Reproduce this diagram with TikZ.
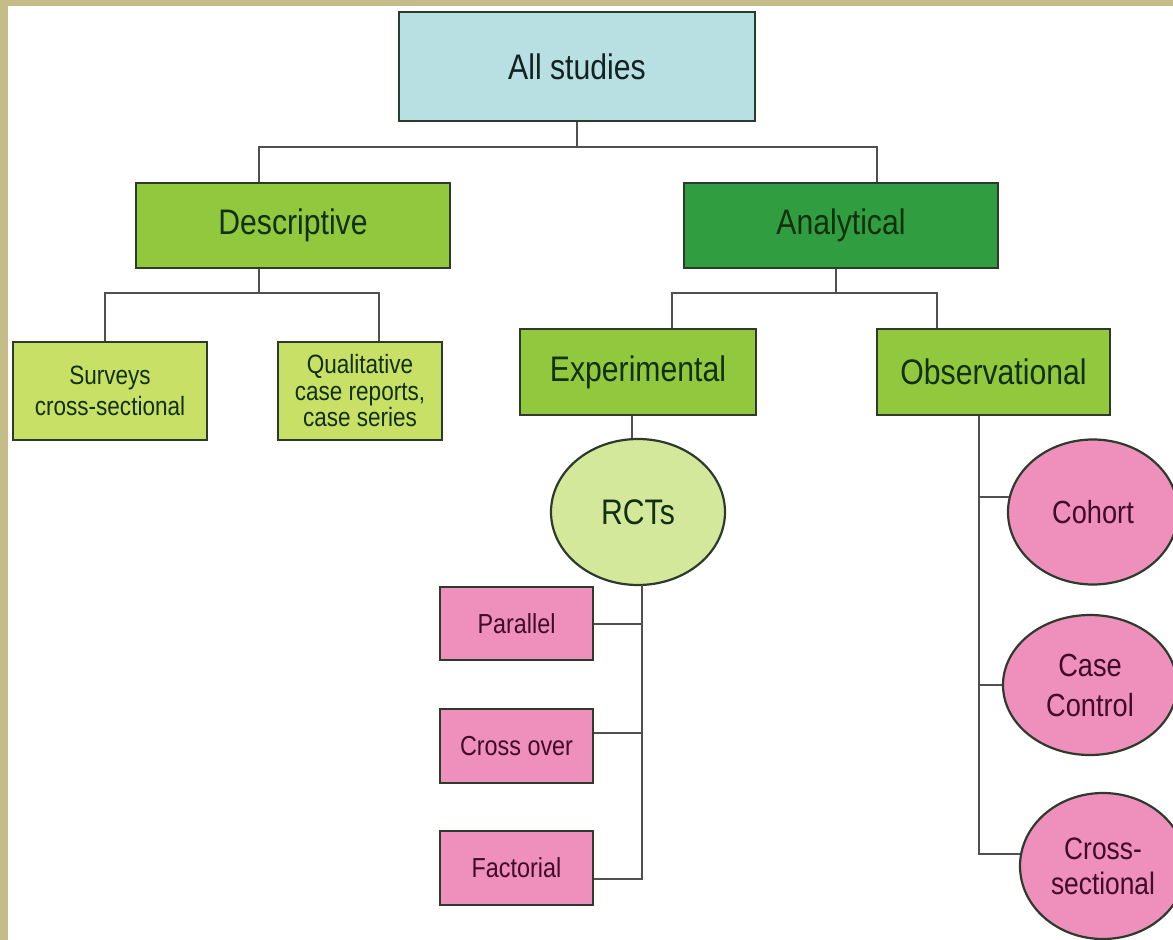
\documentclass[tikz,border=0pt]{standalone}
\usepackage{fontspec}
\setmainfont{Liberation Sans}[FakeStretch=0.85]
\usetikzlibrary{shapes.geometric,calc}
\definecolor{khaki}{HTML}{C6BC88}
\definecolor{edge}{HTML}{2E3B2C}
\definecolor{connc}{HTML}{505050}
\definecolor{bluefill}{HTML}{B8DFE2}
\definecolor{greenfill}{HTML}{92C83E}
\definecolor{darkgreenfill}{HTML}{2F9D40}
\definecolor{lightgreenfill}{HTML}{C9E066}
\definecolor{rctfill}{HTML}{D3E89B}
\definecolor{pinkfill}{HTML}{EE90BB}
\definecolor{greentext}{HTML}{12300E}
\definecolor{pinktext}{HTML}{400A28}
\definecolor{bluetext}{HTML}{122222}
\begin{document}
\begin{tikzpicture}[x=1pt,y=-1pt,
  shp/.style={draw=edge, line width=2.2pt, inner sep=0pt, align=center},
  rbox/.style={shp, rectangle},
  ebox/.style={shp, ellipse},
  bigtxt/.style={font=\fontsize{35.5}{40}\selectfont},
  smalltxt/.style={font=\fontsize{26.5}{26.5}\selectfont},
  midtxt/.style={font=\fontsize{27.5}{30}\selectfont},
  elltxt/.style={font=\fontsize{32}{40}\selectfont},
  xstxt/.style={font=\fontsize{31}{35}\selectfont},
  conn/.style={draw=connc, line width=2pt}]
\useasboundingbox (0,0) rectangle (1173,940);
\clip (0,0) rectangle (1173,940);
\fill[white] (0,0) rectangle (1173,940);
\fill[khaki] (0,0) rectangle (1173,6);
\fill[khaki] (0,0) rectangle (8,940);

% level 0
\node[rbox, fill=bluefill, text=bluetext, bigtxt, minimum width=356pt, minimum height=109pt] (all) at (577,66.5) {\raisebox{-3pt}{All studies}};
% level 1
\node[rbox, fill=greenfill, text=greentext, bigtxt, minimum width=314pt, minimum height=85pt] (desc) at (293,225.5) {Descriptive};
\node[rbox, fill=darkgreenfill, text=greentext, bigtxt, minimum width=314pt, minimum height=85pt] (ana) at (841,225.5) {Analytical};
% level 2
\node[rbox, fill=lightgreenfill, text=greentext, smalltxt, minimum width=194pt, minimum height=98pt] (surv) at (110,391) {Surveys\\[5pt]cross-sectional};
\node[rbox, fill=lightgreenfill, text=greentext, smalltxt, minimum width=164pt, minimum height=98pt] (qual) at (360,391) {Qualitative\\case reports,\\case series};
\node[rbox, fill=greenfill, text=greentext, bigtxt, minimum width=236pt, minimum height=86pt] (exp) at (638,372) {\raisebox{-3pt}{Experimental}};
\node[rbox, fill=greenfill, text=greentext, bigtxt, minimum width=233pt, minimum height=86pt] (obs) at (993.5,372) {\raisebox{-3pt}{Observational}};
% RCTs
\node[ebox, fill=rctfill, text=greentext, bigtxt, minimum width=174pt, minimum height=146pt] (rct) at (638,512) {RCTs};
\node[rbox, fill=pinkfill, text=pinktext, midtxt, minimum width=153pt, minimum height=73pt] (par) at (516.5,623.5) {Parallel};
\node[rbox, fill=pinkfill, text=pinktext, midtxt, minimum width=153pt, minimum height=74pt] (cro) at (516.5,746) {Cross over};
\node[rbox, fill=pinkfill, text=pinktext, midtxt, minimum width=153pt, minimum height=74pt] (fac) at (516.5,868) {Factorial};
% observational children
\node[ebox, fill=pinkfill, text=pinktext, elltxt, minimum width=170pt, minimum height=145pt] (coh) at (1093,512) {Cohort};
\node[ebox, fill=pinkfill, text=pinktext, elltxt, minimum width=174pt, minimum height=140pt] (cc) at (1090,685) {Case\\Control};
\node[ebox, fill=pinkfill, text=pinktext, xstxt, minimum width=166pt, minimum height=146pt] (xs) at (1103,866) {Cross-\\sectional};

% connectors
\draw[conn] (all.south) -- ++(0,25) coordinate (j1);
\draw[conn] ($(desc.north west)!0.392!(desc.north east)$) |- (j1) -| ($(ana.north west)!0.615!(ana.north east)$);

\draw[conn] ($(desc.south west)!0.392!(desc.south east)$) -- ++(0,24) coordinate (j2);
\draw[conn] ($(surv.north west)!0.474!(surv.north east)$) |- (j2) -| ($(qual.north west)!0.616!(qual.north east)$);

\draw[conn] ($(ana.south west)!0.484!(ana.south east)$) -- ++(0,24) coordinate (j3);
\draw[conn] ($(exp.north west)!0.644!(exp.north east)$) |- (j3) -| ($(obs.north west)!0.258!(obs.north east)$);

\draw[conn] ($(exp.south west)!0.475!(exp.south east)$) coordinate (j4) -- (j4 |- rct.north);

% RCT trunk
\draw[conn] ($(rct.south)+(4,-1)$) coordinate (rt) |- ($(fac.east)+(0,11)$);
\draw[conn] (par.east) -- (par.east -| rt);
\draw[conn] ($(cro.east)+(0,-13)$) -- ($(cro.east -| rt)+(0,-13)$);

% observational trunk
\draw[conn] ($(obs.south west)!0.44!(obs.south east)$) coordinate (ot) |- (xs.172);
\draw[conn] (ot |- coh.170) -- (coh.170);
\draw[conn] (ot |- cc.west) -- (cc.west);
\end{tikzpicture}
\end{document}
